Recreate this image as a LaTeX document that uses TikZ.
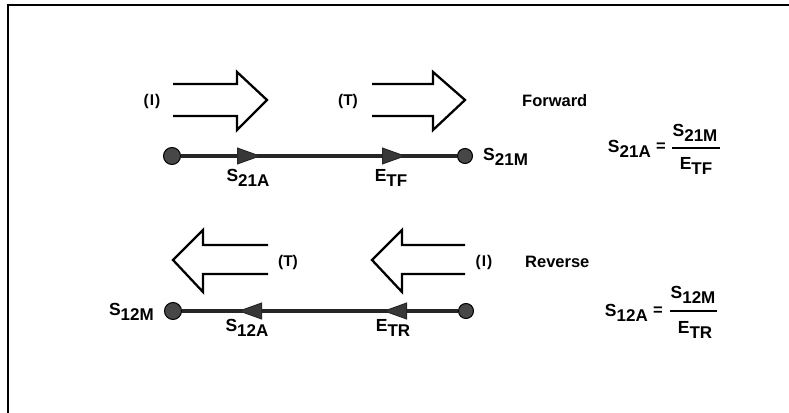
\documentclass[tikz,border=0pt]{standalone}
\usepackage{fontspec}
\setmainfont{Liberation Sans}
\usetikzlibrary{arrows.meta,decorations.markings}
\newcommand{\lsub}[2]{{\fontsize{17.5}{17.5}\selectfont #1}\raisebox{-5pt}{\fontsize{17}{17}\selectfont #2}}
\tikzset{
  lbl/.style={inner sep=0pt, font=\fontsize{16.5}{16.5}\selectfont\bfseries},
  small/.style={inner sep=0pt, font=\fontsize{15.5}{15.5}\selectfont\bfseries},
  dotnode/.style={circle, draw=black, line width=1pt, fill=black!72, minimum size=17pt, inner sep=0pt},
  hollow/.style={draw=black, line width=2.3pt, line join=miter},
  frame/.style={draw=black, line width=2pt},
  mainline/.style={draw=black!85, line width=3.2pt},
  midtip/.tip={Triangle[length=24pt,width=17pt,fill=black!78,line width=1pt]},
  barline/.style={draw=black, line width=1.6pt}
}
\begin{document}
\begin{tikzpicture}[x=1pt,y=-1pt]
\useasboundingbox (0,0) rectangle (789,412);
% frame
\draw[frame] (8,414) -- (8,5) -- (791,5);

% ---------- Forward ----------
\draw[hollow] (173,84) -- (237,84) -- (237,72) -- (267,100) -- (237,130) -- (237,116) -- (173,116);
\draw[hollow] (372,84) -- (433,84) -- (433,72) -- (465,100) -- (433,130) -- (433,116) -- (372,116);
\node[small] (fI) at (152,101) {(\kern1pt I\kern1pt)};
\node[small] (fT) at (348,101) {(T)};
\node[lbl, anchor=west] (fwd) at (522,101) {Forward};

\node[dotnode] (f1) at (172,156) {};
\node[dotnode, minimum size=15pt] (f2) at (465,156) {};
\draw[mainline, postaction={decorate}, decoration={markings,
   mark=at position 80pt with {\arrow{midtip}},
   mark=at position 225pt with {\arrow{midtip}}}] (f1) -- (f2);
\node[lbl, anchor=west] (s21m) at (483,157) {\lsub{S}{21M}};
\node[lbl] (s21a) at (248,178) {\lsub{S}{21A}};
\node[lbl] (etf) at (391,178) {\lsub{E}{TF}};

% ---------- Reverse ----------
\draw[hollow] (268,245) -- (203,245) -- (203,230) -- (173,260) -- (203,292) -- (203,274) -- (268,274);
\draw[hollow] (465,245) -- (402,245) -- (402,230) -- (372,260) -- (402,292) -- (402,274) -- (465,274);
\node[small] (rT) at (288,262) {(T)};
\node[small] (rI) at (484,262) {(\kern1pt I\kern1pt)};
\node[lbl, anchor=west] (rev) at (525,262) {Reverse};

\node[dotnode] (r1) at (173,311) {};
\node[dotnode, minimum size=15pt] (r2) at (466,311) {};
\draw[mainline, postaction={decorate}, decoration={markings,
   mark=at position 75pt with {\arrow{midtip}},
   mark=at position 220pt with {\arrow{midtip}}}] (r2) -- (r1);
\node[lbl, anchor=east] (s12m) at (154,312) {\lsub{S}{12M}};
\node[lbl] (s12a) at (247,328) {\lsub{S}{12A}};
\node[lbl] (etr) at (393,328) {\lsub{E}{TR}};

% ---------- Equations ----------
\node[lbl, anchor=east] (eq1l) at (651,149) {\lsub{S}{21A}};
\node[lbl] (eq1e) at (661,147) {=};
\node[lbl] (eq1n) at (695,133) {\lsub{S}{21M}};
\node[lbl] (eq1d) at (696,166) {\lsub{E}{TF}};
\coordinate (b1l) at (672,148);
\coordinate (b1r) at (720,148);
\draw[barline] (b1l) -- (b1r);

\node[lbl, anchor=east] (eq2l) at (648,313) {\lsub{S}{12A}};
\node[lbl] (eq2e) at (658,311) {=};
\node[lbl] (eq2n) at (693,295) {\lsub{S}{12M}};
\node[lbl] (eq2d) at (695,330) {\lsub{E}{TR}};
\coordinate (b2l) at (670,311);
\coordinate (b2r) at (717,311);
\draw[barline] (b2l) -- (b2r);
\end{tikzpicture}
\end{document}
